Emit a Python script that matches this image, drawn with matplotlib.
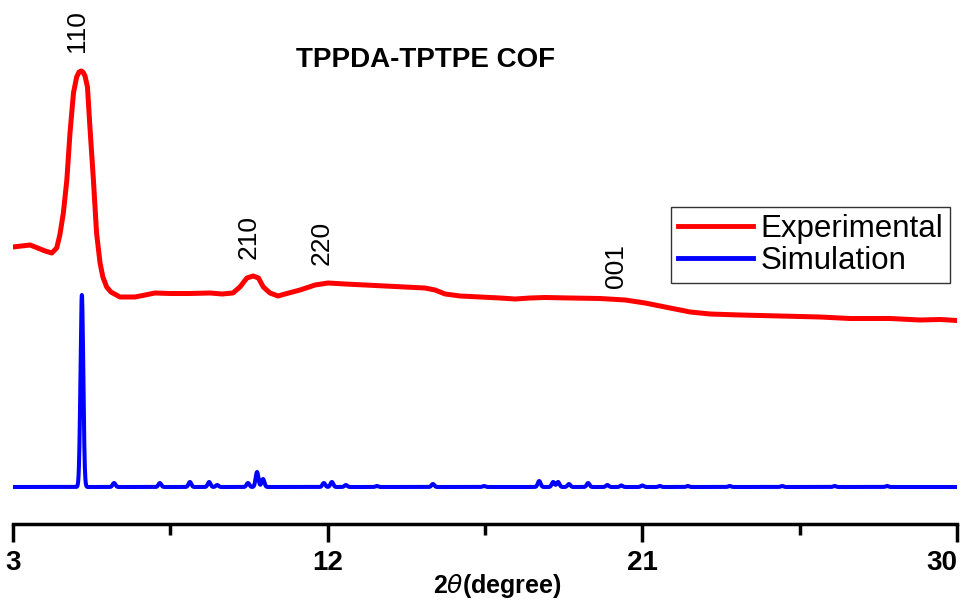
#XRD pattern of TPPDA-TPTPE COF: experimental vs simulated
import numpy as np
import matplotlib
matplotlib.use("Agg")
import matplotlib.pyplot as plt

plt.rcParams['font.family'] = "Liberation Sans"

#Experimental curve (2theta, intensity a.u.)
exp_x = [3.0, 3.49, 3.92, 4.11, 4.25, 4.34, 4.44, 4.54, 4.63, 4.73, 4.82, 4.89, 4.95,
         5.00, 5.06, 5.13, 5.20, 5.30, 5.39, 5.49, 5.57, 5.68, 5.80, 6.06, 6.49, 6.78, 7.06,
         7.49, 8.06, 8.64, 8.98, 9.29, 9.49, 9.69, 9.87, 10.02, 10.16, 10.35, 10.58,
         10.78, 11.21, 11.64, 12.01, 12.50, 13.07, 13.64, 14.21, 14.78, 15.07, 15.36, 15.79,
         16.36, 16.93, 17.36, 17.79, 18.22, 18.93, 19.79, 20.51, 21.08, 21.65, 22.37,
         22.94, 23.80, 24.94, 26.08, 26.94, 28.09, 28.94, 29.52, 30.0]
exp_y = [240, 242, 236, 234, 239, 252, 274, 307, 354, 394, 410, 415, 416,
         415, 411, 400, 360, 307, 254, 224, 210, 200, 195, 190, 190, 192, 194,
         193.5, 193.5, 194, 193, 194, 200, 209, 211, 209, 200, 194, 191,
         193, 197, 202, 204, 203, 202, 201, 200, 199, 197, 193, 191,
         190, 189, 188, 189, 189.5, 189, 188.5, 187, 184, 180, 175,
         173, 172, 171, 170, 168.5, 168.5, 167, 167.5, 166.5]

#Simulated reflections: positions, heights and width
sim_pos = [4.97, 5.89, 7.20, 8.06, 8.61, 8.84, 9.72, 9.98, 10.15, 11.89, 12.12, 12.52,
           13.41, 15.01, 16.47, 18.05, 18.45, 18.59, 18.90, 19.45, 20.0, 20.4, 21.0,
           21.5, 22.3, 23.5, 25.0, 26.5, 28.0]
sim_h = [192, 4, 4, 5, 5, 2, 4, 15, 8, 4, 5, 2,
         1, 3, 1, 6, 5, 5, 3, 4, 2, 1.5, 1.5,
         1, 1, 1, 1, 1, 1]
sim_w = 0.04

#Peak labels
hkl = ["110", "210", "220", "001"]
hkl_x = [4.83, 9.75, 11.84, 20.25]
hkl_y = [435, 228, 222, 199]

sim_x = np.arange(3, 30.0001, 0.005)
sim_y = np.zeros_like(sim_x)
for p, h in zip(sim_pos, sim_h):
    sim_y += h * np.exp(-0.5 * ((sim_x - p) / sim_w) ** 2)

fig = plt.figure(figsize=(9.71, 6.01), dpi=100)
ax = fig.add_axes([13/971, 1 - 524/601, 944/971, 524/601])

ax.plot(exp_x, exp_y, color='#ff0000', lw=3.6, solid_joinstyle='round', label='Experimental')
ax.plot(sim_x, sim_y, color='#0000ff', lw=2.9, label='Simulation')

for t, x, y in zip(hkl, hkl_x, hkl_y):
    ax.text(x, y, t, rotation=90, ha='center', va='bottom', fontsize=19)

ax.text(0.437, 0.885, 'TPPDA-TPTPE COF', transform=ax.transAxes, ha='center', va='center',
        fontsize=20, fontweight='bold')

ax.set_xlim(3, 30)
ax.set_ylim(-37, 487)
ax.set_xticks([3, 12, 21, 30])
ax.set_xticks([7.5, 16.5, 25.5], minor=True)
ax.set_yticks([])
for s in ['left', 'right', 'top']:
    ax.spines[s].set_visible(False)
ax.spines['bottom'].set_linewidth(2.5)
ax.tick_params(axis='x', which='major', length=13, width=2.5, pad=6)
ax.tick_params(axis='x', which='minor', length=8, width=2.5)
for lab in ax.get_xticklabels():
    lab.set_fontsize(20)
    lab.set_fontweight('bold')
ax.get_xticklabels()[-1].set_ha('right')
ax.get_xticklabels()[-1].set_x(30.4)

ax.set_xlabel(r'2$\theta$(degree)', fontsize=18, fontweight='bold')
ax.xaxis.set_label_coords(0.513, -0.092)
ax.xaxis.label.set_va('top')

leg = ax.legend(loc='upper right', bbox_to_anchor=(950/971, 1 - 207/601),
                bbox_transform=fig.transFigure, fontsize=22.5, frameon=True, fancybox=False,
                handlelength=2.4, handletextpad=0.25, labelspacing=0.08, borderpad=0.22,
                borderaxespad=0)
leg.get_frame().set_edgecolor('black')
leg.get_frame().set_linewidth(1.0)
for l in leg.get_lines():
    l.set_linewidth(3.5)

plt.savefig('out.png', dpi=100)
